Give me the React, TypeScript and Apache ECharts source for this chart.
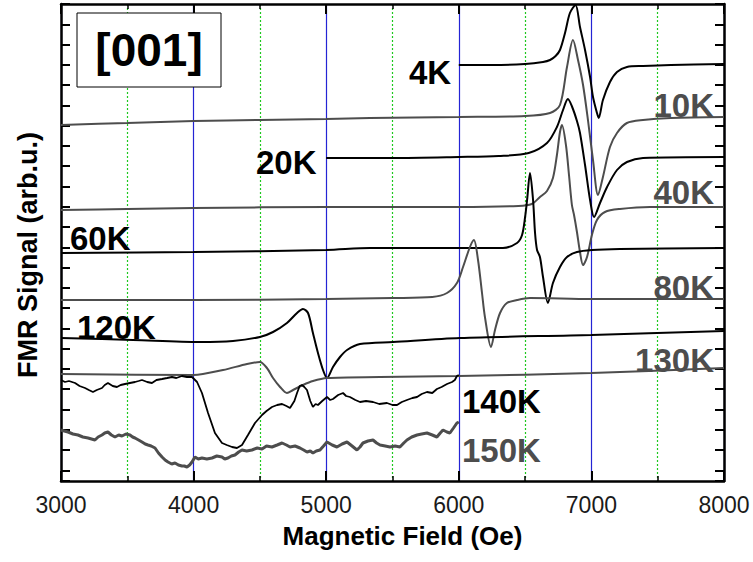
import React, { useEffect, useRef } from "react";
import * as echarts from "echarts";

// ---------- data (field in Oe, signal in arb. units incl. vertical offset) ----------
const fieldRange = [3000, 8000];
const fieldTickStep = 1000;
const signalRange = [0, 477];

const curveNames = ["4K", "10K", "20K", "40K", "60K", "80K", "120K", "130K", "140K", "150K"];

const c4K = [
  [6000, 416], [6250, 416], [6500, 417], [6635, 419], [6688, 421], [6730, 425], [6763, 431],
  [6801, 448], [6838, 468], [6880, 476], [6914, 454], [6952, 431], [6990, 404], [7012, 384],
  [7042, 368], [7055, 363], [7087, 381], [7140, 399], [7193, 409], [7268, 414], [7389, 415],
  [7600, 416], [8000, 417],
];
const c10K = [
  [3000, 356], [3500, 358], [4000, 360], [4500, 361], [5000, 362], [5330, 363], [6000, 364],
  [6500, 365], [6688, 368], [6763, 376], [6816, 414], [6861, 441], [6899, 421], [6937, 396],
  [6974, 361], [7012, 321], [7050, 286], [7087, 304], [7140, 334], [7193, 348], [7268, 358],
  [7389, 361], [7600, 363], [8000, 364],
];
const c20K = [
  [5000, 323], [5500, 323], [6000, 324], [6300, 325], [6527, 328], [6665, 338], [6740, 354],
  [6786, 371], [6823, 382], [6855, 374], [6891, 360], [6914, 348], [6952, 316], [6990, 281],
  [7020, 264], [7065, 278], [7118, 294], [7193, 311], [7268, 319], [7389, 323], [8000, 324],
];
const c40K = [
  [3000, 271], [3500, 272], [4000, 273], [5000, 274], [6000, 274], [6450, 275], [6550, 277],
  [6612, 284], [6665, 290], [6710, 303], [6740, 326], [6763, 349], [6778, 356], [6808, 336],
  [6831, 306], [6853, 276], [6869, 266], [6891, 249], [6914, 229], [6937, 216], [6967, 224],
  [7004, 246], [7042, 261], [7102, 269], [7215, 272], [7442, 274], [8000, 274],
];
const c60K = [
  [3000, 228], [4000, 229], [5000, 231], [5330, 233], [6000, 233], [6333, 233], [6439, 238],
  [6477, 246], [6500, 264], [6515, 281], [6537, 308], [6560, 281], [6575, 248], [6590, 231],
  [6612, 224], [6635, 204], [6672, 178], [6710, 198], [6763, 214], [6816, 224], [6891, 229],
  [7004, 231], [7215, 232], [8000, 233],
];
const c80K = [
  [3000, 181], [4000, 181], [5000, 182], [5500, 183], [5800, 184], [5911, 188], [5986, 198],
  [6032, 214], [6084, 234], [6114, 241], [6145, 221], [6175, 188], [6197, 164], [6243, 134],
  [6273, 151], [6311, 168], [6363, 178], [6439, 181], [6537, 183], [7000, 182], [8000, 182],
];
const c120K = [
  [3000, 143], [3543, 141], [4048, 139], [4297, 140], [4500, 144], [4599, 149], [4704, 158],
  [4780, 168], [4825, 172], [4863, 168], [4900, 148], [4938, 128], [4976, 111], [5006, 103],
  [5051, 114], [5104, 124], [5157, 131], [5255, 137], [5504, 139], [6009, 143], [7000, 146],
  [8000, 150],
];
const c130K = [
  [3000, 107], [4000, 106], [4222, 111], [4403, 117], [4500, 119], [4553, 113], [4599, 103],
  [4652, 94], [4704, 88], [4750, 91], [4825, 96], [4900, 100], [5006, 103], [5406, 104],
  [6000, 105], [7000, 108], [8000, 113],
];
const c140K = [
  [3000, 101], [3030, 99], [3060, 100], [3106, 98], [3140, 95], [3181, 93], [3210, 91],
  [3241, 89], [3270, 91], [3309, 93], [3330, 96], [3354, 98], [3390, 95], [3422, 94],
  [3450, 96], [3483, 97], [3520, 98], [3558, 99], [3585, 100], [3611, 101], [3650, 99],
  [3686, 98], [3720, 101], [3762, 102], [3800, 103], [3837, 104], [3870, 103], [3912, 105],
  [3950, 104], [3988, 104], [4026, 99], [4063, 88], [4109, 68], [4161, 48], [4214, 38],
  [4250, 36], [4290, 34], [4327, 33], [4365, 36], [4410, 46], [4463, 58], [4516, 66],
  [4550, 70], [4591, 74], [4630, 76], [4667, 77], [4700, 75], [4727, 73], [4760, 80],
  [4780, 88], [4800, 95], [4817, 96], [4835, 94], [4855, 91], [4880, 80], [4900, 74],
  [4920, 77], [4938, 76], [4970, 80], [5006, 84], [5030, 81], [5051, 82], [5090, 86],
  [5127, 88], [5150, 85], [5179, 84], [5220, 81], [5255, 79], [5300, 80], [5353, 79],
  [5400, 77], [5458, 78], [5500, 76], [5534, 76], [5570, 79], [5609, 81], [5650, 83],
  [5685, 84], [5720, 87], [5760, 89], [5800, 88], [5835, 92], [5870, 94], [5911, 97],
  [5949, 99], [5970, 101], [5986, 105], [6000, 106],
];
const c150K = [
  [3000, 51], [3025, 50], [3053, 49], [3090, 47], [3128, 46], [3165, 44], [3204, 43],
  [3230, 42], [3256, 41], [3280, 44], [3309, 46], [3330, 48], [3354, 49], [3380, 46],
  [3407, 44], [3435, 46], [3460, 45], [3490, 47], [3520, 46], [3540, 44], [3558, 43],
  [3585, 41], [3611, 39], [3635, 37], [3656, 36], [3680, 35], [3709, 33], [3735, 28],
  [3762, 24], [3785, 21], [3807, 19], [3835, 17], [3860, 18], [3885, 16], [3912, 15],
  [3930, 15], [3950, 14], [3970, 16], [3988, 19], [4010, 24], [4035, 22], [4063, 23],
  [4100, 22], [4139, 23], [4175, 25], [4214, 24], [4235, 22], [4259, 23], [4285, 25],
  [4312, 26], [4340, 29], [4365, 31], [4400, 30], [4440, 31], [4480, 33], [4516, 32],
  [4550, 35], [4591, 34], [4630, 36], [4667, 38], [4700, 36], [4727, 34], [4765, 35],
  [4802, 33], [4830, 31], [4855, 29], [4880, 30], [4900, 28], [4925, 30], [4953, 31],
  [4980, 35], [5006, 39], [5045, 36], [5081, 34], [5120, 37], [5157, 39], [5195, 35],
  [5232, 31], [5255, 34], [5277, 38], [5315, 40], [5353, 41], [5380, 38], [5406, 36],
  [5445, 35], [5481, 34], [5520, 35], [5556, 34], [5585, 38], [5609, 41], [5645, 44],
  [5685, 46], [5720, 47], [5760, 48], [5800, 46], [5835, 44], [5860, 48], [5881, 51],
  [5910, 49], [5933, 48], [5960, 53], [5986, 58], [6000, 59],
];
const curveData = [c4K, c10K, c20K, c40K, c60K, c80K, c120K, c130K, c140K, c150K];

// ---------- styling ----------
const BLACK = "#000000";
const GRAY = "#4d4d4d";
const FONT = '"Liberation Sans", Arial, Helvetica, sans-serif';
const curveColor = [BLACK, GRAY, BLACK, GRAY, BLACK, GRAY, BLACK, GRAY, BLACK, GRAY];
const curveWidth = [2, 2, 2, 2, 2, 2, 2, 2, 1.8, 3];
const curveSmooth = [0.3, 0.3, 0.3, 0.3, 0.3, 0.3, 0.3, 0.3, 0, 0];

// label placement (pixels) — annotations next to each trace
const labelPos: Record<string, [number, number, "left" | "right"]> = {
  "4K": [409, 72, "left"],
  "10K": [714, 105, "right"],
  "20K": [256, 162, "left"],
  "40K": [714, 192, "right"],
  "60K": [70, 238, "left"],
  "80K": [714, 287, "right"],
  "120K": [77, 327, "left"],
  "130K": [714, 360, "right"],
  "140K": [462, 401, "left"],
  "150K": [462, 450, "left"],
};

const GRID = { left: 61, right: 29, top: 4, bottom: 81 };
const tickUnits = 23.53; // left/right tick axis: 1 tick per unit, counted from the top

export default function App() {
  const ref = useRef<HTMLDivElement>(null);

  useEffect(() => {
    if (!ref.current) return;
    const chart = echarts.init(ref.current, undefined, { renderer: "svg" });

    const series: any[] = curveNames.map((name, i) => ({
      name,
      type: "line",
      data: curveData[i],
      xAxisIndex: 0,
      yAxisIndex: 0,
      showSymbol: false,
      symbol: "none",
      smooth: curveSmooth[i],
      lineStyle: { color: curveColor[i], width: curveWidth[i] },
      z: 3,
      silent: true,
    }));

    const texts: any[] = curveNames.map((name, i) => {
      const [x, y, align] = labelPos[name];
      return {
        type: "text",
        x,
        y,
        z: 50,
        style: {
          text: name,
          fill: curveColor[i],
          font: `bold 33px ${FONT}`,
          align,
          verticalAlign: "middle",
          textAlign: align,
          textVerticalAlign: "middle",
        },
      };
    });

    const frameLine = { show: true, lineStyle: { color: "#000", width: 2.5 } };

    chart.setOption({
      animation: false,
      backgroundColor: "#ffffff",
      grid: { ...GRID, containLabel: false },
      xAxis: [
        {
          type: "value",
          position: "bottom",
          min: fieldRange[0],
          max: fieldRange[1],
          interval: fieldTickStep,
          axisLine: frameLine,
          axisTick: { show: true, inside: true, length: 10, lineStyle: { color: "#000", width: 2 } },
          minorTick: { show: true, splitNumber: 2, length: 5, lineStyle: { color: "#000", width: 1.5 } },
          axisLabel: {
            show: true,
            fontSize: 23,
            color: "#1a1a1a",
            fontFamily: FONT,
            margin: 12,
            formatter: (v: number) => String(v),
          },
          splitLine: { show: true, lineStyle: { color: "#2424d4", width: 1.2, opacity: 1 } },
          minorSplitLine: { show: true, lineStyle: { color: "#1fc81f", width: 1.2, type: [2, 2], opacity: 1 } },
          name: "Magnetic Field (Oe)",
          nameLocation: "middle",
          nameGap: 42,
          nameTextStyle: {
            fontSize: 26,
            fontWeight: "bold",
            color: "#000",
            fontFamily: FONT,
            padding: [0, 0, 0, 20],
          },
        },
        {
          type: "value",
          position: "top",
          min: fieldRange[0],
          max: fieldRange[1],
          interval: fieldTickStep,
          axisLine: frameLine,
          axisTick: { show: true, inside: true, length: 10, lineStyle: { color: "#000", width: 2 } },
          minorTick: { show: true, splitNumber: 2, length: 5, lineStyle: { color: "#000", width: 1.5 } },
          axisLabel: { show: false },
          splitLine: { show: false },
          minorSplitLine: { show: false },
        },
      ],
      yAxis: [
        {
          type: "value",
          position: "left",
          min: signalRange[0],
          max: signalRange[1],
          axisLine: frameLine,
          axisTick: { show: false },
          axisLabel: { show: false },
          splitLine: { show: false },
        },
        {
          type: "value",
          position: "left",
          inverse: true,
          min: 0,
          max: tickUnits,
          interval: 1,
          axisLine: { show: false },
          axisTick: { show: true, inside: true, length: 9, lineStyle: { color: "#000", width: 2 } },
          axisLabel: { show: false },
          splitLine: { show: false },
        },
        {
          type: "value",
          position: "right",
          inverse: true,
          min: 0,
          max: tickUnits,
          interval: 1,
          axisLine: frameLine,
          axisTick: { show: true, inside: true, length: 9, lineStyle: { color: "#000", width: 2 } },
          axisLabel: { show: false },
          splitLine: { show: false },
        },
      ],
      series,
      graphic: [
        {
          type: "text",
          x: 28,
          y: 255,
          rotation: Math.PI / 2,
          z: 50,
          style: {
            text: "FMR Signal (arb.u.)",
            fill: "#000",
            font: `bold 27px ${FONT}`,
            align: "center",
            verticalAlign: "middle",
            textAlign: "center",
            textVerticalAlign: "middle",
          },
        },
        {
          type: "rect",
          z: 40,
          shape: { x: 77, y: 13, width: 144, height: 74 },
          style: { fill: "#ffffff", stroke: "#000", lineWidth: 1 },
        },
        {
          type: "text",
          x: 149,
          y: 50,
          z: 41,
          style: {
            text: "[001]",
            fill: "#000",
            font: `bold 46px ${FONT}`,
            align: "center",
            verticalAlign: "middle",
            textAlign: "center",
            textVerticalAlign: "middle",
          },
        },
        ...texts,
      ],
    });

    return () => chart.dispose();
  }, []);

  return (
    <div
      ref={ref}
      style={{ position: "fixed", left: 0, top: 0, width: 753, height: 562, background: "#fff" }}
    />
  );
}
